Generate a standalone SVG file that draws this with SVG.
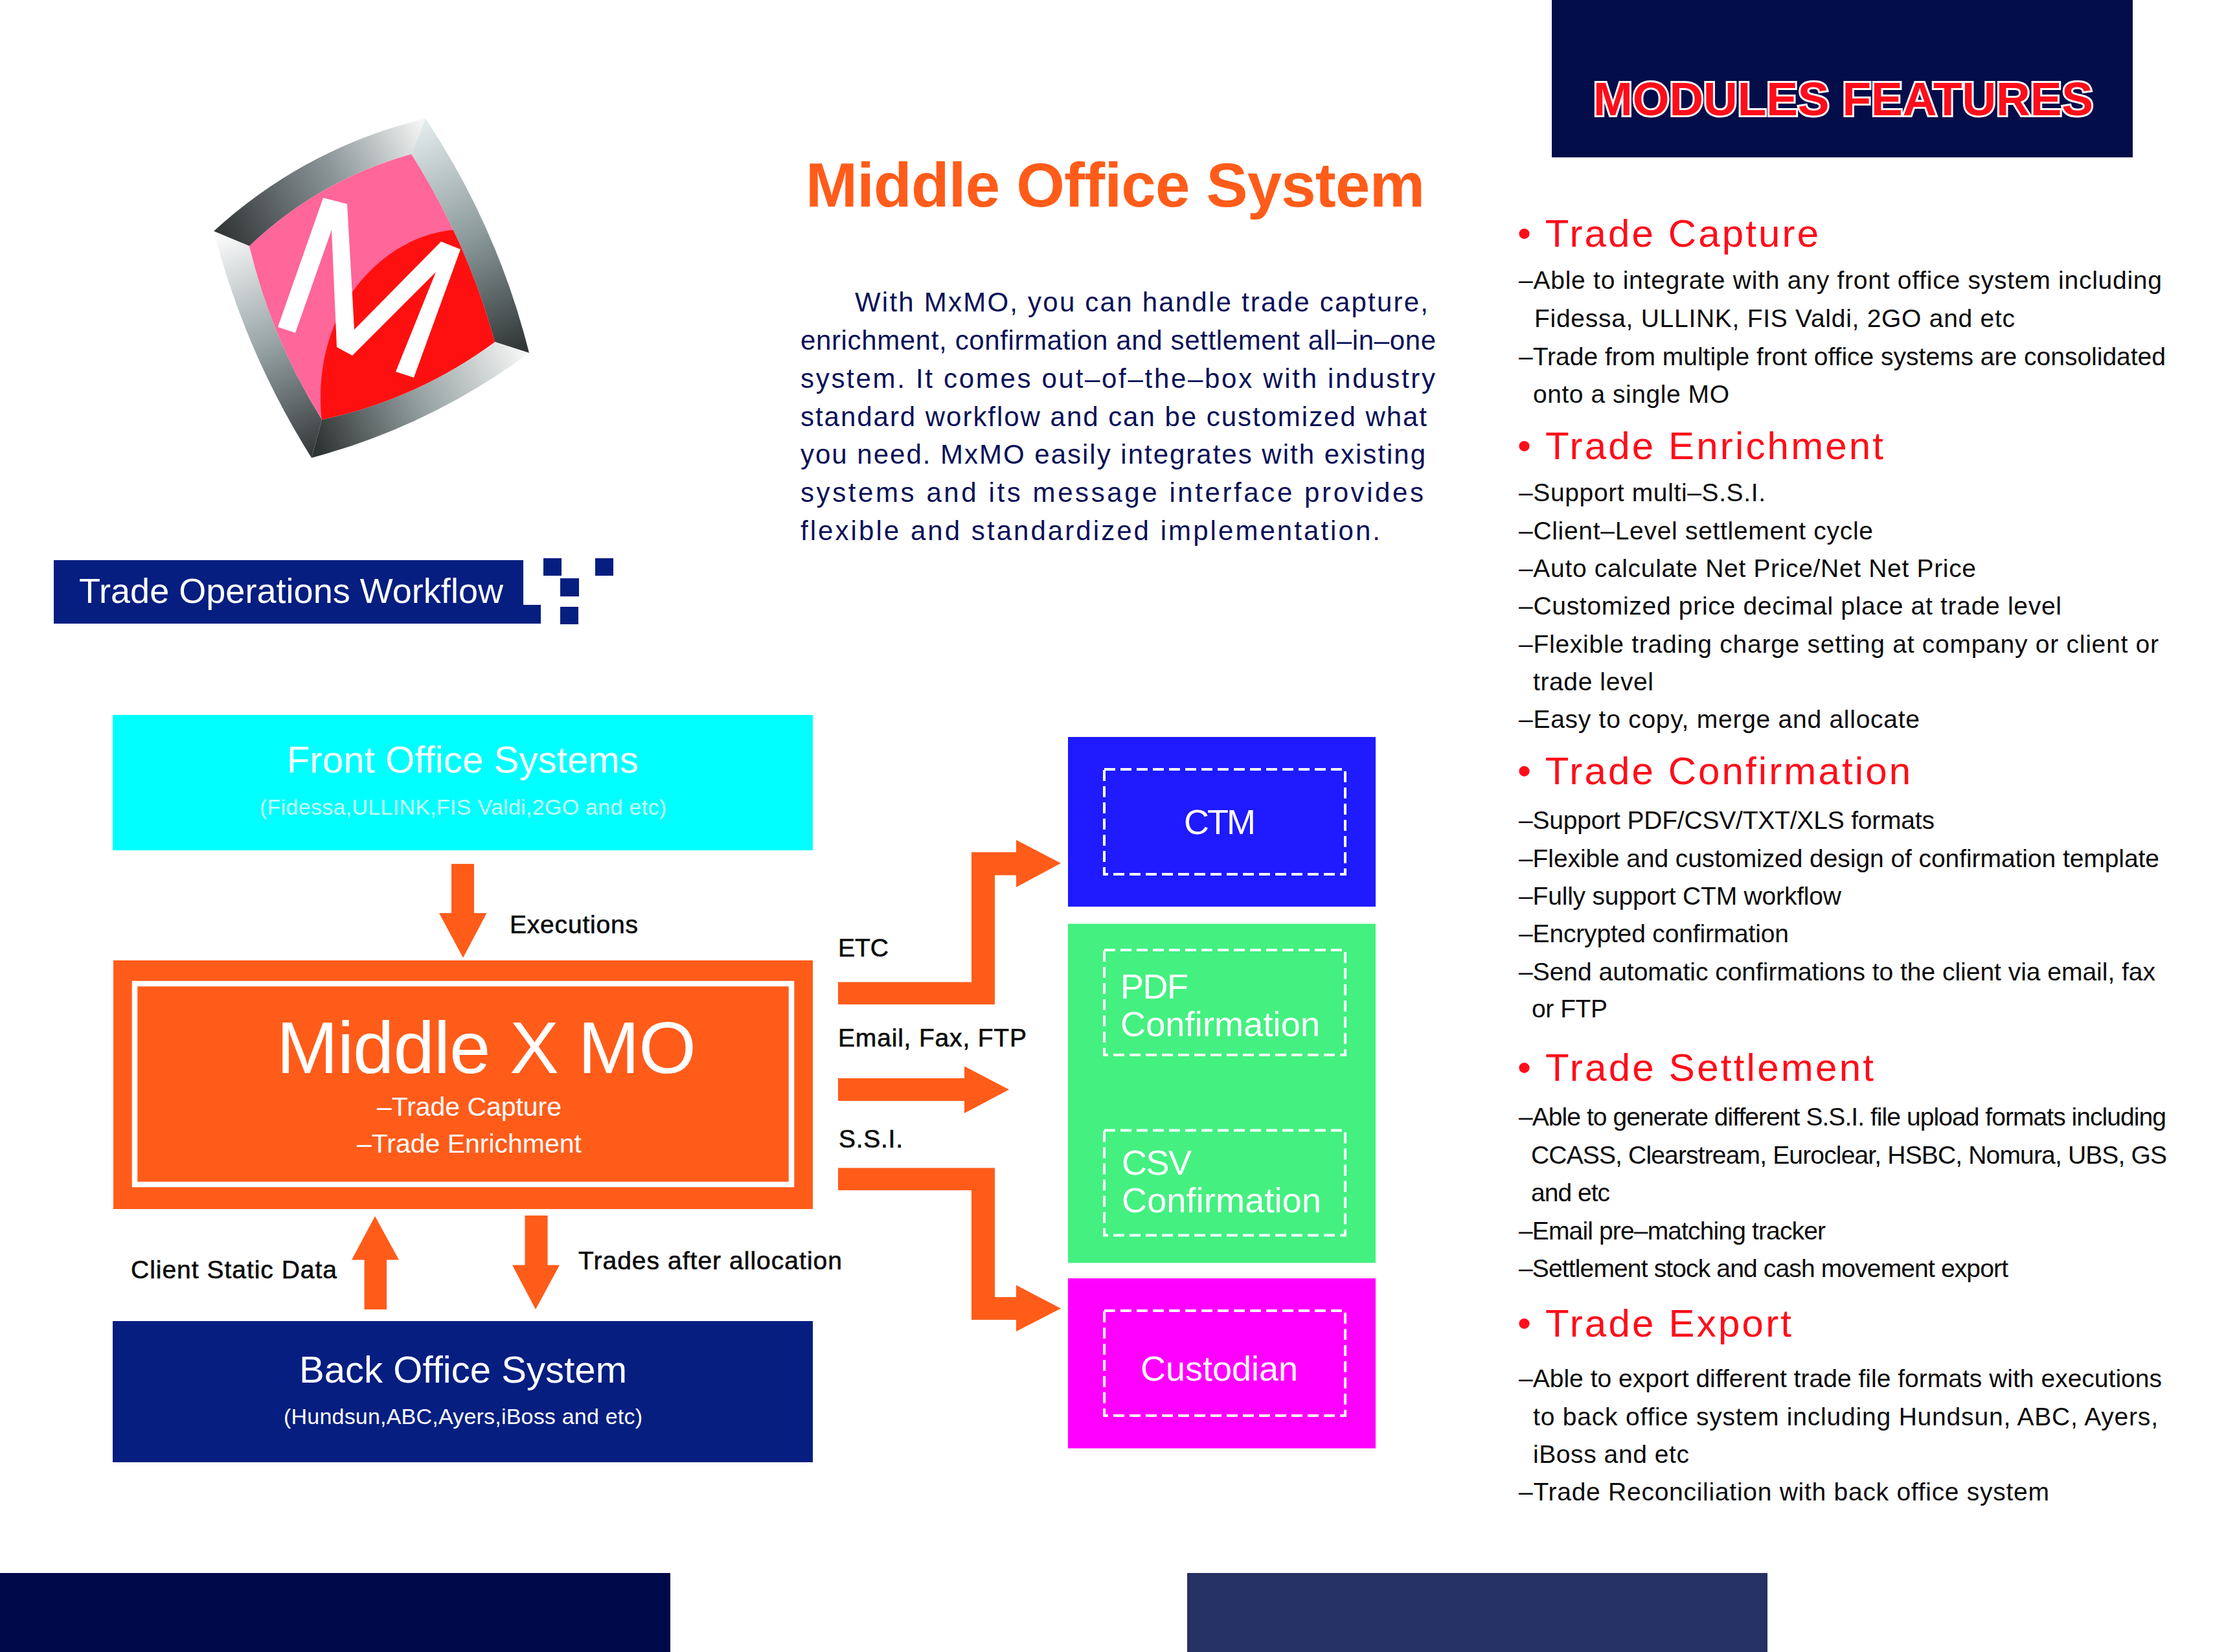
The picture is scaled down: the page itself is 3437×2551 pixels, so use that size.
<svg xmlns="http://www.w3.org/2000/svg" width="3437" height="2551" viewBox="0 0 3437 2551">
<style>
text{font-family:"Liberation Sans",Arial,sans-serif}
.w{fill:#fff}
.a{fill:#ff5c1a}
.h{font-size:60px;fill:#ff0d1a}
.b{font-size:39px;fill:#0a0a0a}
.p{font-size:42px;fill:#0a1158}
.l{font-size:39px;fill:#0a0a0a;stroke:#0a0a0a;stroke-width:.6}
.t{font-size:58px;fill:#fff}
.s{font-size:34px}
.d{fill:none;stroke:#fff;stroke-width:4;stroke-dasharray:17 8}
.c{font-size:54px;fill:#fff}
</style>
<defs>
<linearGradient id="g1" gradientUnits="userSpaceOnUse" x1="345" y1="350" x2="650" y2="190"><stop offset="0" stop-color="#35393a"/><stop offset=".55" stop-color="#8c9698"/><stop offset="1" stop-color="#f4f4f4"/></linearGradient>
<linearGradient id="g2" gradientUnits="userSpaceOnUse" x1="650" y1="190" x2="810" y2="540"><stop offset="0" stop-color="#e4ecec"/><stop offset=".5" stop-color="#8c9a9c"/><stop offset="1" stop-color="#2f3434"/></linearGradient>
<linearGradient id="g3" gradientUnits="userSpaceOnUse" x1="810" y1="545" x2="490" y2="690"><stop offset="0" stop-color="#f6f6f6"/><stop offset=".5" stop-color="#96a2a2"/><stop offset="1" stop-color="#2f3333"/></linearGradient>
<linearGradient id="g4" gradientUnits="userSpaceOnUse" x1="340" y1="365" x2="485" y2="700"><stop offset="0" stop-color="#fafafa"/><stop offset=".5" stop-color="#98a4a6"/><stop offset="1" stop-color="#35393a"/></linearGradient>
<clipPath id="ci"><path d="M385,380 Q492,278 635,238 Q721,373 764,528 Q643,617 497,648 Q419,523 385,380 Z"/></clipPath>
</defs>

<g id="logo">
<path fill="url(#g1)" d="M330,357 Q471,228 657,183 L635,238 Q492,278 385,380 Z"/>
<path fill="url(#g2)" d="M657,183 Q768,350 817,545 L764,528 Q721,373 635,238 Z"/>
<path fill="url(#g3)" d="M817,545 Q664,658 481,707 L497,648 Q643,617 764,528 Z"/>
<path fill="url(#g4)" d="M481,707 Q378,543 330,357 L385,380 Q419,523 497,648 Z"/>
<path fill="#ff6699" d="M385,380 Q492,278 635,238 Q721,373 764,528 Q643,617 497,648 Q419,523 385,380 Z"/>
<path fill="#ff1010" clip-path="url(#ci)" d="M700,355 C590,365 478,480 497,652 L800,700 L800,350 Z"/>
<polygon fill="#fff" points="499,305.5 536,315 547,509 681,373 711,385 639,583 611,574 673,420 544,549 520,536 512,355 456,514 429,505"/>
</g>

<g id="workflow-banner">
<polygon fill="#051e80" points="83,865 808,865 808,934 835,934 835,963 83,963"/>
<rect fill="#051e80" x="839" y="862" width="28" height="27"/>
<rect fill="#051e80" x="919" y="862" width="28" height="27"/>
<rect fill="#051e80" x="865" y="893" width="29" height="28"/>
<rect fill="#051e80" x="865" y="937" width="28" height="27"/>
<text class="w" x="122" y="931" font-size="54" textLength="655">Trade Operations Workflow</text>
</g>

<g id="title">
<text x="1244" y="319" font-size="96" font-weight="700" fill="#ff5c1a" textLength="956">Middle Office System</text>
</g>

<g id="intro">
<text class="p" x="1320" y="481" textLength="885">With MxMO, you can handle trade capture,</text>
<text class="p" x="1236" y="540" textLength="981">enrichment, confirmation and settlement all–in–one</text>
<text class="p" x="1236" y="599" textLength="980">system. It comes out–of–the–box with industry</text>
<text class="p" x="1236" y="658" textLength="967">standard workflow and can be customized what</text>
<text class="p" x="1236" y="716" textLength="965">you need. MxMO easily integrates with existing</text>
<text class="p" x="1236" y="775" textLength="962">systems and its message interface provides</text>
<text class="p" x="1236" y="834" textLength="895">flexible and standardized implementation.</text>
</g>

<g id="modules-header">
<rect fill="#030d4a" x="2396" y="0" width="897" height="243"/>
<text x="2460" y="178" font-size="73" font-weight="700" fill="#ff0d1a" stroke="#fff" stroke-width="6" paint-order="stroke" textLength="772">MODULES FEATURES</text>
</g>

<g id="feature-capture">
<text class="h" x="2343" y="381" textLength="465">• Trade Capture</text>
<text class="b" x="2345" y="446" textLength="993">–Able to integrate with any front office system including</text>
<text class="b" x="2369" y="505" textLength="742">Fidessa, ULLINK, FIS Valdi, 2GO and etc</text>
<text class="b" x="2345" y="564" textLength="999">–Trade from multiple front office systems are consolidated</text>
<text class="b" x="2367" y="622" textLength="303">onto a single MO</text>
</g>
<g id="feature-enrichment">
<text class="h" x="2343" y="708.5" textLength="565">• Trade Enrichment</text>
<text class="b" x="2345" y="774" textLength="381">–Support multi–S.S.I.</text>
<text class="b" x="2345" y="832.5" textLength="547">–Client–Level settlement cycle</text>
<text class="b" x="2345" y="890.5" textLength="706">–Auto calculate Net Price/Net Net Price</text>
<text class="b" x="2345" y="949" textLength="838">–Customized price decimal place at trade level</text>
<text class="b" x="2345" y="1008" textLength="988">–Flexible trading charge setting at company or client or</text>
<text class="b" x="2367" y="1066" textLength="186">trade level</text>
<text class="b" x="2345" y="1124" textLength="619">–Easy to copy, merge and allocate</text>
</g>
<g id="feature-confirmation">
<text class="h" x="2343" y="1211" textLength="607">• Trade Confirmation</text>
<text class="b" x="2345" y="1280" textLength="642">–Support PDF/CSV/TXT/XLS formats</text>
<text class="b" x="2345" y="1338.5" textLength="989">–Flexible and customized design of confirmation template</text>
<text class="b" x="2345" y="1396.5" textLength="498">–Fully support CTM workflow</text>
<text class="b" x="2345" y="1455" textLength="417">–Encrypted confirmation</text>
<text class="b" x="2345" y="1514" textLength="983">–Send automatic confirmations to the client via email, fax</text>
<text class="b" x="2365" y="1571" textLength="117">or FTP</text>
</g>
<g id="feature-settlement">
<text class="h" x="2343" y="1668.5" textLength="550">• Trade Settlement</text>
<text class="b" x="2345" y="1738" textLength="1000">–Able to generate different S.S.I. file upload formats including</text>
<text class="b" x="2364" y="1796.5" textLength="982">CCASS, Clearstream, Euroclear, HSBC, Nomura, UBS, GS</text>
<text class="b" x="2364" y="1855" textLength="122">and etc</text>
<text class="b" x="2345" y="1913.5" textLength="474">–Email pre–matching tracker</text>
<text class="b" x="2345" y="1972" textLength="756">–Settlement stock and cash movement export</text>
</g>
<g id="feature-export">
<text class="h" x="2343" y="2063.5" textLength="423">• Trade Export</text>
<text class="b" x="2345" y="2142" textLength="993">–Able to export different trade file formats with executions</text>
<text class="b" x="2367" y="2200.5" textLength="965">to back office system including Hundsun, ABC, Ayers,</text>
<text class="b" x="2367" y="2258.5" textLength="241">iBoss and etc</text>
<text class="b" x="2345" y="2317" textLength="819">–Trade Reconciliation with back office system</text>
</g>

<g id="front-office">
<rect fill="#00ffff" x="174" y="1104" width="1081" height="209"/>
<text class="t" x="443" y="1193" textLength="543">Front Office Systems</text>
<text class="s" fill="#ccffff" x="401" y="1258" textLength="628">(Fidessa,ULLINK,FIS Valdi,2GO and etc)</text>
</g>

<g id="middle-x-mo">
<rect class="a" x="175" y="1483" width="1080" height="384"/>
<rect fill="none" stroke="#fff" stroke-width="8.5" x="208" y="1519" width="1014" height="310"/>
<text class="w" x="427" y="1657" font-size="114" textLength="648">Middle X MO</text>
<text class="w" x="582" y="1723" font-size="41" textLength="285">–Trade Capture</text>
<text class="w" x="551" y="1780" font-size="41" textLength="347">–Trade Enrichment</text>
</g>

<g id="back-office">
<rect fill="#051e80" x="174" y="2040" width="1081" height="218"/>
<text class="t" x="462" y="2134.5" textLength="506">Back Office System</text>
<text class="s w" x="438" y="2199" textLength="554">(Hundsun,ABC,Ayers,iBoss and etc)</text>
</g>

<g id="ctm">
<rect fill="#1f1aff" x="1649" y="1138" width="475" height="262"/>
<rect class="d" x="1705" y="1188" width="372" height="162"/>
<text class="c" x="1828" y="1288" textLength="111">CTM</text>
</g>
<g id="confirmations">
<rect fill="#44f080" x="1649" y="1426.5" width="475" height="523.5"/>
<rect class="d" x="1705" y="1467" width="372" height="162"/>
<text class="c" x="1730" y="1542" textLength="105">PDF</text>
<text class="c" x="1730" y="1600" textLength="308">Confirmation</text>
<rect class="d" x="1705" y="1745.5" width="372" height="162"/>
<text class="c" x="1732" y="1814" textLength="108">CSV</text>
<text class="c" x="1732" y="1872" textLength="308">Confirmation</text>
</g>
<g id="custodian">
<rect fill="#ff00ff" x="1649" y="1974" width="475" height="262.5"/>
<rect class="d" x="1705" y="2024" width="372" height="162"/>
<text class="c" x="1761" y="2132" textLength="243">Custodian</text>
</g>

<g id="connectors">
<polygon class="a" points="697,1334 732,1334 732,1410 751.5,1410 715,1479 678,1410 697,1410"/>
<polygon class="a" points="562.5,2022 597,2022 597,1945.5 616,1945.5 579,1878 543,1945.5 562.5,1945.5"/>
<polygon class="a" points="810.5,1877 845.5,1877 845.5,1953.5 864,1953.5 827,2022 791,1953.5 810.5,1953.5"/>
<polygon class="a" points="1294,1516.5 1500,1516.5 1500,1316 1569,1316 1569,1297 1638,1333 1569,1370 1569,1351.5 1536,1351.5 1536,1551 1294,1551"/>
<polygon class="a" points="1294,1665 1489,1665 1489,1646.5 1558,1682.5 1489,1719 1489,1700 1294,1700"/>
<polygon class="a" points="1294,1803.5 1536,1803.5 1536,2003 1569,2003 1569,1984.5 1638,2020.5 1569,2056 1569,2038 1500,2038 1500,1838 1294,1838"/>
</g>

<g id="connector-labels">
<text class="l" x="787" y="1441" textLength="198">Executions</text>
<text class="l" x="202" y="1974" textLength="318">Client Static Data</text>
<text class="l" x="893" y="1960" textLength="407">Trades after allocation</text>
<text class="l" x="1294" y="1476.5" textLength="78">ETC</text>
<text class="l" x="1294" y="1616" textLength="291">Email, Fax, FTP</text>
<text class="l" x="1295" y="1772" textLength="99">S.S.I.</text>
</g>

<g id="footer">
<rect fill="#000a4a" x="0" y="2429" width="1035" height="122"/>
<rect fill="#253063" x="1833" y="2429" width="896" height="122"/>
</g>
</svg>
